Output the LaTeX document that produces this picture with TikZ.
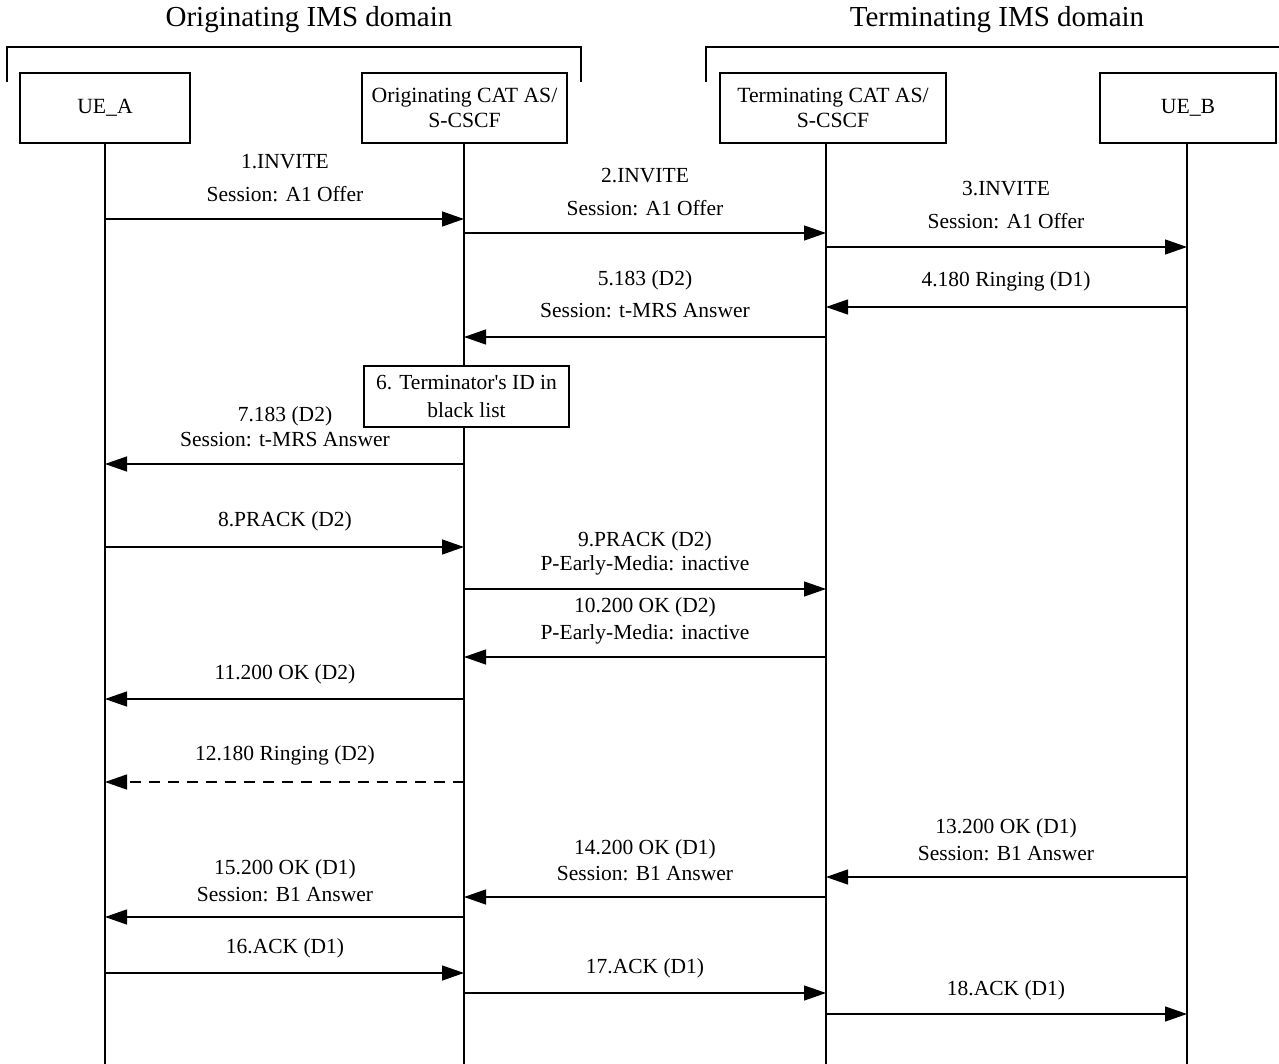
\documentclass[tikz,border=0pt]{standalone}
\usepackage{fontspec}
\setmainfont{Liberation Serif}
\usetikzlibrary{arrows.meta}
\begin{document}
\begin{tikzpicture}[x=1pt,y=-1pt,
  ent/.style={draw, line width=1.1pt, minimum height=70pt, inner sep=0pt, align=center, font=\fontsize{21.7}{25}\selectfont},
  note/.style={draw, line width=1.1pt, fill=white, minimum height=61pt, minimum width=205pt, inner sep=0pt, align=center, font=\fontsize{21.5}{28}\selectfont},
  life/.style={line width=1.1pt},
  brace/.style={line width=1.3pt},
  msg/.style={line width=1.3pt, -{Triangle[length=22pt,width=15pt]}},
  dmsg/.style={msg, dash pattern=on 11pt off 8pt},
  lbl/.style={font=\fontsize{21.5}{24}\selectfont, inner sep=0pt, anchor=center},
  hdr/.style={font=\fontsize{29}{32}\selectfont, inner sep=0pt}]
\useasboundingbox (0,0) rectangle (1279,1064);

% domain headings and brackets
\node[hdr] (hOrig) at (309,20) {Originating IMS domain};
\node[hdr] (hTerm) at (997,20) {Terminating IMS domain};
\draw[brace] (7,82) -- (7,47) -- (581,47) -- (581,82);
\draw[brace] (706,82) -- (706,47) -- (1285,47);

% entities
\node[ent, minimum width=170pt] (ueA) at (105,108) {UE\_A};
\node[ent, minimum width=205pt] (oAS) at (464.5,108) {Originating CAT AS/\\S-CSCF};
\node[ent, minimum width=226pt] (tAS) at (833,108) {Terminating CAT AS/\\S-CSCF};
\node[ent, minimum width=176pt] (ueB) at (1188,108) {UE\_B};

% lifelines
\coordinate (ueAend) at (105,1064);
\coordinate (oASend) at (464,1064);
\coordinate (tASend) at (826,1064);
\coordinate (ueBend) at (1187,1064);
\draw[life] (ueA.south -| ueAend) -- (ueAend);
\draw[life] (oAS.south -| oASend) -- (oASend);
\draw[life] (tAS.south -| tASend) -- (tASend);
\draw[life] (ueB.south -| ueBend) -- (ueBend);

% 1-3 INVITE
\draw[msg] (ueAend |- 0,219) -- (oASend |- 0,219);
\node[lbl] (l1a) at (285,162) {1.INVITE};
\node[lbl] (l1b) at (285,194) {Session: A1 Offer};
\draw[msg] (oASend |- 0,233) -- (tASend |- 0,233);
\node[lbl] (l2a) at (645,176) {2.INVITE};
\node[lbl] (l2b) at (645,208) {Session: A1 Offer};
\draw[msg] (tASend |- 0,247) -- (ueBend |- 0,247);
\node[lbl] (l3a) at (1006,189) {3.INVITE};
\node[lbl] (l3b) at (1006,221) {Session: A1 Offer};

% 4-5 provisional responses
\draw[msg] (ueBend |- 0,307) -- (tASend |- 0,307);
\node[lbl] (l4) at (1006,281) {4.180 Ringing (D1)};
\draw[msg] (tASend |- 0,337) -- (oASend |- 0,337);
\node[lbl] (l5a) at (645,280) {5.183 (D2)};
\node[lbl] (l5b) at (645,311) {Session: t-MRS Answer};

% 6 black list check
\node[note] (chk) at (466.5,396.5) {6. Terminator\textquotesingle s ID in\\black list};

% 7
\draw[msg] (oASend |- 0,464) -- (ueAend |- 0,464);
\node[lbl] (l7a) at (285,416) {7.183 (D2)};
\node[lbl] (l7b) at (285,440) {Session: t-MRS Answer};

% 8-11 PRACK exchange
\draw[msg] (ueAend |- 0,547) -- (oASend |- 0,547);
\node[lbl] (l8) at (285,521) {8.PRACK (D2)};
\draw[msg] (oASend |- 0,589) -- (tASend |- 0,589);
\node[lbl] (l9a) at (645,541) {9.PRACK (D2)};
\node[lbl] (l9b) at (645,565) {P-Early-Media: inactive};
\draw[msg] (tASend |- 0,657) -- (oASend |- 0,657);
\node[lbl] (l10a) at (645,607) {10.200 OK (D2)};
\node[lbl] (l10b) at (645,634) {P-Early-Media: inactive};
\draw[msg] (oASend |- 0,699) -- (ueAend |- 0,699);
\node[lbl] (l11) at (285,674) {11.200 OK (D2)};

% 12 local ringing
\draw[dmsg] (oASend |- 0,782) -- (ueAend |- 0,782);
\node[lbl] (l12) at (285,755) {12.180 Ringing (D2)};

% 13-15 final responses
\draw[msg] (ueBend |- 0,877) -- (tASend |- 0,877);
\node[lbl] (l13a) at (1006,828) {13.200 OK (D1)};
\node[lbl] (l13b) at (1006,854) {Session: B1 Answer};
\draw[msg] (tASend |- 0,897) -- (oASend |- 0,897);
\node[lbl] (l14a) at (645,849) {14.200 OK (D1)};
\node[lbl] (l14b) at (645,874) {Session: B1 Answer};
\draw[msg] (oASend |- 0,917) -- (ueAend |- 0,917);
\node[lbl] (l15a) at (285,869) {15.200 OK (D1)};
\node[lbl] (l15b) at (285,895) {Session: B1 Answer};

% 16-18 ACK
\draw[msg] (ueAend |- 0,973) -- (oASend |- 0,973);
\node[lbl] (l16) at (285,948) {16.ACK (D1)};
\draw[msg] (oASend |- 0,993) -- (tASend |- 0,993);
\node[lbl] (l17) at (645,968) {17.ACK (D1)};
\draw[msg] (tASend |- 0,1014) -- (ueBend |- 0,1014);
\node[lbl] (l18) at (1006,990) {18.ACK (D1)};
\end{tikzpicture}
\end{document}
